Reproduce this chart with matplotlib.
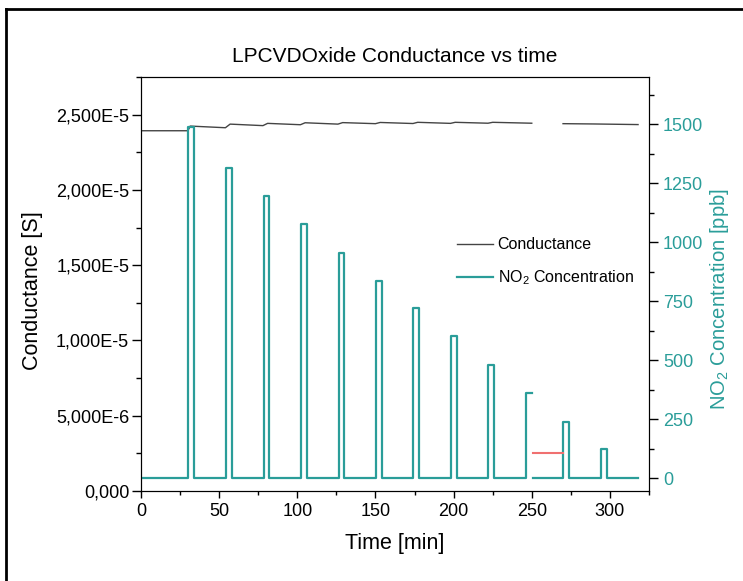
import numpy as np
import matplotlib.pyplot as plt
from matplotlib.lines import Line2D
from matplotlib.ticker import MultipleLocator, FixedLocator, FixedFormatter

plt.rcParams['font.family'] = ['Liberation Sans', 'DejaVu Sans']
plt.rcParams['mathtext.fontset'] = 'custom'
plt.rcParams['mathtext.rm'] = 'Liberation Sans'

# conductance [S], two recorded pieces (gap between 250 and 270 min)
cond_t1 = [0, 30, 31.5, 54, 57, 78, 81, 102, 105, 126, 129, 150, 153, 174, 177, 198, 201, 222, 225, 250]
cond_g1 = [2.393e-5, 2.393e-5, 2.424e-5, 2.413e-5, 2.437e-5, 2.427e-5, 2.442e-5, 2.433e-5,
           2.446e-5, 2.437e-5, 2.447e-5, 2.440e-5, 2.448e-5, 2.441e-5, 2.449e-5, 2.442e-5,
           2.449e-5, 2.443e-5, 2.449e-5, 2.443e-5]
cond_t2 = [270, 290, 318]
cond_g2 = [2.440e-5, 2.438e-5, 2.434e-5]

# NO2 pulses [min], [ppb]
pulse_on = [30.3, 54.2, 78.4, 102.2, 126.4, 150.2, 174.3, 198.2, 222.0, 246.0, 270.0, 294.1]
pulse_off = [33.9, 58.0, 82.2, 106.0, 130.1, 154.0, 178.0, 202.1, 225.6, None, 274.0, 297.9]
pulse_ppb = [1490, 1315, 1197, 1075, 956, 836, 719, 603, 479, 360, 238, 123]
seg_start = [0, 250.5]
seg_end = [250, 318]
seg_pulses = [range(0, 10), range(10, 12)]

red_t = [250.5, 270]
red_ppb = [107, 107]

left_ticks = [0, 5e-6, 1e-5, 1.5e-5, 2e-5, 2.5e-5]
left_labels = ['0,000', '5,000E-6', '1,000E-5', '1,500E-5', '2,000E-5', '2,500E-5']
right_ticks = [0, 250, 500, 750, 1000, 1250, 1500]


def step_path(idx, t0, t1):
    t, c = [t0], [0]
    for i in idx:
        a, b, v = pulse_on[i], pulse_off[i], pulse_ppb[i]
        t += [a, a]
        c += [0, v]
        if b is None:
            t.append(t1)
            c.append(v)
            return t, c
        t += [b, b]
        c += [v, 0]
    t.append(t1)
    c.append(0)
    return t, c


teal = '#2a9d99'
fig = plt.figure(figsize=(7.43, 5.81), dpi=100)
ax = fig.add_axes([141 / 743, 1 - 491 / 581, 508 / 743, 414 / 581])
ax2 = ax.twinx()

ax.plot(cond_t1, cond_g1, color='#444444', lw=1.0, label='Conductance', zorder=3)
ax.plot(cond_t2, cond_g2, color='#444444', lw=1.0, zorder=3)

for k in range(2):
    t, c = step_path(seg_pulses[k], seg_start[k], seg_end[k])
    ax2.plot(t, c, color=teal, lw=1.6, label='NO$_2$ Concentration' if k == 0 else None)
ax2.plot(red_t, red_ppb, color='#f07070', lw=1.5)

ax.set_xlim(0, 325)
ax.set_ylim(0, 2.75e-5)
ax2.set_ylim(-55, 1700)

ax.xaxis.set_major_locator(MultipleLocator(50))
ax.xaxis.set_minor_locator(MultipleLocator(25))
ax.yaxis.set_major_locator(FixedLocator(left_ticks))
ax.yaxis.set_major_formatter(FixedFormatter(left_labels))
ax.yaxis.set_minor_locator(MultipleLocator(2.5e-6))
ax2.yaxis.set_major_locator(FixedLocator(right_ticks))
ax2.yaxis.set_minor_locator(MultipleLocator(125))

ax.tick_params(axis='x', which='major', direction='out', length=5, width=1, labelsize=13, pad=4)
ax.tick_params(axis='x', which='minor', direction='out', length=3, width=1)
ax.tick_params(axis='y', which='major', direction='out', length=6.5, width=1, labelsize=13, pad=2)
ax.tick_params(axis='y', which='minor', direction='out', length=3.5, width=1)
ax2.tick_params(axis='y', which='major', direction='out', length=6.5, width=1, labelsize=13, pad=3.5)
ax2.tick_params(axis='y', which='minor', direction='out', length=3.5, width=1)
ax2.tick_params(axis='y', which='both', colors='black', labelcolor=teal)

ax.set_xlabel('Time [min]', fontsize=15.5, labelpad=9)
ax.set_ylabel('Conductance [S]', fontsize=15.5)
ax.yaxis.set_label_coords(-0.193, 0.483)
ax2.set_ylabel('NO$_2$ Concentration [ppb]', fontsize=14.6, color=teal)
ax2.yaxis.set_label_coords(1.117, 0.464)
ax.set_title('LPCVDOxide Conductance vs time', fontsize=15, pad=11)

h1, l1 = ax.get_legend_handles_labels()
h2, l2 = ax2.get_legend_handles_labels()
ax.legend(h1 + h2, l1 + l2, loc='center left', bbox_to_anchor=(0.622, 0.553), frameon=False,
          fontsize=11.5, handlelength=2.25, handletextpad=0.3, labelspacing=1.0,
          borderpad=0, borderaxespad=0)

# outer frame (left and top visible)
fig.add_artist(Line2D([6 / 743, 6 / 743], [0, 1 - 9 / 581], color='black', lw=2))
fig.add_artist(Line2D([6 / 743, 1], [1 - 9 / 581, 1 - 9 / 581], color='black', lw=2))

fig.savefig('out.png', dpi=100)
